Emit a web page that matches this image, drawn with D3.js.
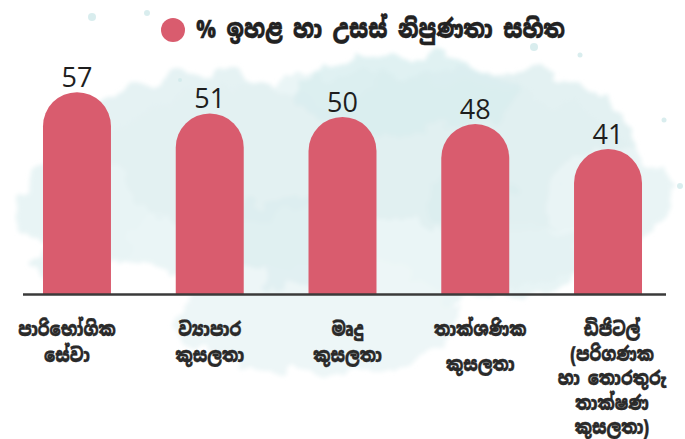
<!DOCTYPE html>
<html>
<head>
<meta charset="utf-8">
<script src="https://cdn.jsdelivr.net/npm/d3@7"></script>
<style>
  html, body { margin: 0; padding: 0; background: #ffffff; }
  svg { display: block; }
</style>
</head>
<body>
<svg id="chart" width="685" height="439"></svg>
<script>
// ---- data ----
const categories = ["පාරිභෝගික සේවා", "ව්‍යාපාර කුසලතා", "මෘදු කුසලතා", "තාක්ශණික කුසලතා", "ඩිජිටල් (පරිගණක හා තොරතුරු තාක්ෂණ කුසලතා)"];
const categoryLines = [
  ["පාරිභෝගික", "සේවා"],
  ["ව්‍යාපාර", "කුසලතා"],
  ["මෘදු", "කුසලතා"],
  ["තාක්ශණික", "කුසලතා"],
  ["ඩිජිටල්", "(පරිගණක", "හා තොරතුරු", "තාක්ෂණ", "කුසලතා)"]
];
const values = [57, 51, 50, 48, 41];
const seriesName = "% ඉහළ හා උසස් නිපුණතා සහිත";

// ---- layout ----
const W = 685, H = 439;
const baseY = 294.5;
const svg = d3.select("#chart");
const sinhala = "'Noto Sans Sinhala', 'Noto Serif Sinhala', 'Iskoola Pota', 'Noto Sans', sans-serif";
const barColor = "#d95c6e";

// ---- watercolor background ----
const defs = svg.append("defs");
const f = defs.append("filter").attr("id", "wc").attr("x", "-20%").attr("y", "-20%").attr("width", "140%").attr("height", "140%");
f.append("feTurbulence").attr("type", "fractalNoise").attr("baseFrequency", 0.035).attr("numOctaves", 3).attr("seed", 4).attr("result", "noise");
f.append("feDisplacementMap").attr("in", "SourceGraphic").attr("in2", "noise").attr("scale", 38).attr("xChannelSelector", "R").attr("yChannelSelector", "G").attr("result", "disp");
f.append("feGaussianBlur").attr("in", "disp").attr("stdDeviation", 2);

const bg = svg.append("g").attr("filter", "url(#wc)");
const blobs = [
  {cx: 360, cy: 190, rx: 290, ry: 115, c: "#eaf5f6", o: 1},
  {cx: 210, cy: 150, rx: 140, ry: 75, c: "#e2f1f2", o: 0.9},
  {cx: 480, cy: 150, rx: 160, ry: 85, c: "#e0f0f1", o: 0.9},
  {cx: 320, cy: 320, rx: 140, ry: 55, c: "#edf6f7", o: 1},
  {cx: 80, cy: 215, rx: 60, ry: 60, c: "#e8f4f5", o: 1},
  {cx: 610, cy: 195, rx: 60, ry: 45, c: "#e9f4f5", o: 1},
  {cx: 410, cy: 95, rx: 110, ry: 40, c: "#d8edef", o: 0.8},
  {cx: 290, cy: 240, rx: 70, ry: 45, c: "#d9edef", o: 0.6},
  {cx: 520, cy: 260, rx: 55, ry: 40, c: "#e2f1f2", o: 0.8},
  {cx: 470, cy: 205, rx: 40, ry: 30, c: "#d8ecee", o: 0.6}
];
bg.selectAll("ellipse").data(blobs).join("ellipse")
  .attr("cx", d => d.cx).attr("cy", d => d.cy)
  .attr("rx", d => d.rx).attr("ry", d => d.ry)
  .attr("fill", d => d.c).attr("opacity", d => d.o);
const dots = [[92,17,4],[147,13,3],[680,186,3],[621,160,2.5],[534,47,4],[180,80,2],[580,55,2.5],[664,120,2.5]];
svg.append("g").selectAll("circle").data(dots).join("circle")
  .attr("cx", d => d[0]).attr("cy", d => d[1]).attr("r", d => d[2])
  .attr("fill", "#cfe8ea").attr("opacity", 0.8);

// ---- scales ----
const x = d3.scaleBand().domain(categories).range([10.6, 674.4]).paddingInner(0.488).paddingOuter(0.244);
const y = d3.scaleLinear().domain([0, 60]).range([baseY, baseY - 60 * 3.55]);

// ---- bars with rounded tops ----
function barPath(d, i) {
  const x0 = x(categories[i]), w = x.bandwidth(), r = w / 2;
  const top = y(d);
  const p = d3.path();
  p.moveTo(x0, baseY);
  p.lineTo(x0, top + r);
  p.arc(x0 + r, top + r, r, Math.PI, 0);
  p.lineTo(x0 + w, baseY);
  p.closePath();
  return p.toString();
}
svg.append("g").selectAll("path").data(values).join("path")
  .attr("d", (d, i) => barPath(d, i))
  .attr("fill", barColor);

// ---- value labels ----
svg.append("g").selectAll("text").data(values).join("text")
  .attr("x", (d, i) => x(categories[i]) + x.bandwidth() / 2)
  .attr("y", d => y(d) - 5)
  .attr("text-anchor", "middle")
  .attr("font-family", "'Open Sans', sans-serif")
  .attr("font-weight", 500)
  .attr("font-size", 27)
  .attr("fill", "#1e1e1e")
  .text(d => d);

// ---- baseline axis ----
const axis = svg.append("g").attr("transform", `translate(0,${baseY})`)
  .call(d3.axisBottom(x).tickSize(0).tickFormat(""));
axis.select(".domain").remove();
svg.append("line")
  .attr("x1", x(categories[0]) - 20).attr("x2", x(categories[4]) + x.bandwidth() + 24)
  .attr("y1", baseY).attr("y2", baseY)
  .attr("stroke", "#3a3a3a").attr("stroke-width", 2.5);

// ---- category labels ----
const lineOffsets = [
  [0, 26],
  [0, 26],
  [0, 26],
  [0, 35],
  [0, 25, 49, 74, 98]
];
const labelShift = [-10, 0, 5, 5, 4];
const lab = svg.append("g");
categoryLines.forEach((lines, i) => {
  const cx = x(categories[i]) + x.bandwidth() / 2 + labelShift[i];
  const g = lab.append("g").attr("transform", `translate(${cx},0) scale(0.81,1)`);
  const t = g.append("text")
    .attr("text-anchor", "middle")
    .attr("font-family", sinhala)
    .attr("font-weight", 900)
    .attr("font-size", 19.5)
    .attr("fill", "#2a2a2a")
    .attr("stroke", "#2a2a2a").attr("stroke-width", 0.3);
  lines.forEach((ln, j) => {
    t.append("tspan")
      .attr("x", 0)
      .attr("y", 336 + lineOffsets[i][j])
      .text(ln);
  });
});

// ---- legend ----
const leg = svg.append("g");
leg.append("circle").attr("cx", 173).attr("cy", 30).attr("r", 12).attr("fill", barColor);
leg.append("g").attr("transform", "translate(196,0) scale(0.835,1)")
  .append("text").attr("x", 0).attr("y", 38)
  .attr("font-family", sinhala).attr("font-weight", 900).attr("font-size", 25)
  .attr("fill", "#222").attr("stroke", "#222").attr("stroke-width", 0.3)
  .text(seriesName);
</script>
</body>
</html>
